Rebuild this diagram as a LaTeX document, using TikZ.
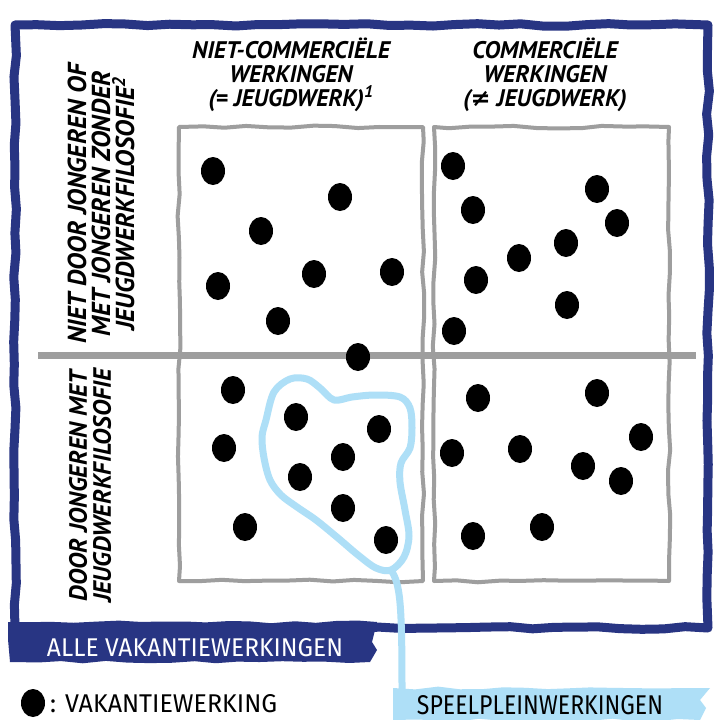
\documentclass[tikz,border=0pt]{standalone}
\usepackage{fontspec}
\setmainfont{PT Sans}
\newfontfamily\handfont{Fira Sans}
\newfontfamily\symfont{DejaVu Sans}
\usepackage{xcolor}
\usepackage{tikz}
\usetikzlibrary{shapes.geometric,decorations.pathmorphing}

\definecolor{kaderblauw}{HTML}{283583}
\definecolor{pleinblauw}{HTML}{AEDFF7}
\definecolor{lijngrijs}{HTML}{9E9E9E}

\begin{document}
\begin{tikzpicture}[x=1pt,y=-1pt,
                    wobble/.style={decorate,decoration={random steps,segment length=22pt,amplitude=1.4pt}},
                    frame/.style={kaderblauw,line width=9pt,line join=round,wobble},
                    cell/.style={lijngrijs,line width=4pt,line join=round,wobble},
                    divider/.style={lijngrijs,line width=7pt},
                    plein/.style={pleinblauw,line width=7pt,line join=round},
                    dot/.style={ellipse,fill=black,inner sep=0pt,
                    minimum width=24pt,minimum height=28pt},
                    head/.style={font=\bfseries\itshape\fontsize{24}{24}\selectfont,
                    align=center,inner sep=0pt},
                    side/.style={align=center,inner sep=0pt,rotate=90,
                    font=\bfseries\itshape\fontsize{#1}{24}\selectfont},
                    hand/.style={inner sep=0pt}]
    \pgfmathsetseed{7}
    \useasboundingbox (0,0) rectangle (714,720);
    \fill[white] (0,0) rectangle (714,720);

    % frame and labels underneath
    \draw[frame] (15,25) -- (708,25) -- (708,628) -- (15,628) -- cycle;
    \fill[kaderblauw,wobble] (8,622) -- (377,622) -- (372,642) -- (377,650)
                             -- (370,662) -- (10,662) -- cycle;
    \node[hand,text=white] (alle) at (195,648)
        {\resizebox{296pt}{18pt}{\handfont ALLE VAKANTIEWERKINGEN}};
    \fill[pleinblauw,wobble] (393,688) -- (710,688) -- (700,700) -- (706,708)
                             -- (700,720) -- (393,720) -- cycle;
    \node[hand] (plein) at (540,705)
        {\resizebox{246pt}{19pt}{\handfont SPEELPLEINWERKINGEN}};
    \node[dot] (legdot) at (33,703) {};
    \node[hand,anchor=west] (legtxt) at (50,704)
        {\resizebox{227pt}{18pt}{\handfont : VAKANTIEWERKING}};

    % headers
    \node[head] (kopnc) at (291,75) {NIET-COMMERCIËLE\\WERKINGEN\\(= JEUGDWERK)\textsuperscript{1}};
    \node[head] (kopc) at (545,75) {COMMERCIËLE\\WERKINGEN\\({\symfont ≠} JEUGDWERK)};
    \node[side=26] (rijniet) at (101,204) {NIET DOOR JONGEREN OF\\MET JONGEREN ZONDER\\JEUGDWERKFILOSOFIE\textsuperscript{2}};
    \node[side=25] (rijmet) at (90,486) {DOOR JONGEREN MET\\JEUGDWERKFILOSOFIE};

    % grid
    \draw[cell] (179,127) rectangle (423,581);
    \draw[cell] (434,127) rectangle (669,581);
    \draw[divider] (38,355) -- (696,355);

    % speelpleinwerkingen
    \draw[plein] plot[smooth cycle,tension=0.55] coordinates {
        (266,420) (274,392) (290,379) (307,379) (320,388) (334,400) (352,397)
        (375,395) (400,397) (410,408) (412,428) (410,448) (401,463) (400,482)
        (405,510) (409,536) (404,557) (391,570) (376,568) (358,555) (338,538)
        (316,520) (297,507) (281,495) (270,480) (264,458) (262,437)};
    \draw[plein] (391,570) .. controls (400,584) and (402,600) .. (402,690);

    % vakantiewerkingen
    \foreach \px/\py [count=\i] in {213/171,340/197,261/231,218/286,314/274,
                                    392/272,278/321,358/357}
        \node[dot] (nclinks\i) at (\px,\py) {};
    \foreach \px/\py [count=\i] in {453/166,473/210,597/189,617/223,519/258,
                                    566/243,476/280,567/305,454/331}
        \node[dot] (crechts\i) at (\px,\py) {};
    \foreach \px/\py [count=\i] in {233/390,296/417,379/429,224/448,343/457,
                                    300/477,343/508,245/527,386/540}
        \node[dot] (jwlinks\i) at (\px,\py) {};
    \foreach \px/\py [count=\i] in {478/398,597/393,641/437,452/453,520/449,
                                    583/466,621/481,473/536,542/527}
        \node[dot] (jwrechts\i) at (\px,\py) {};
\end{tikzpicture}
\end{document}
